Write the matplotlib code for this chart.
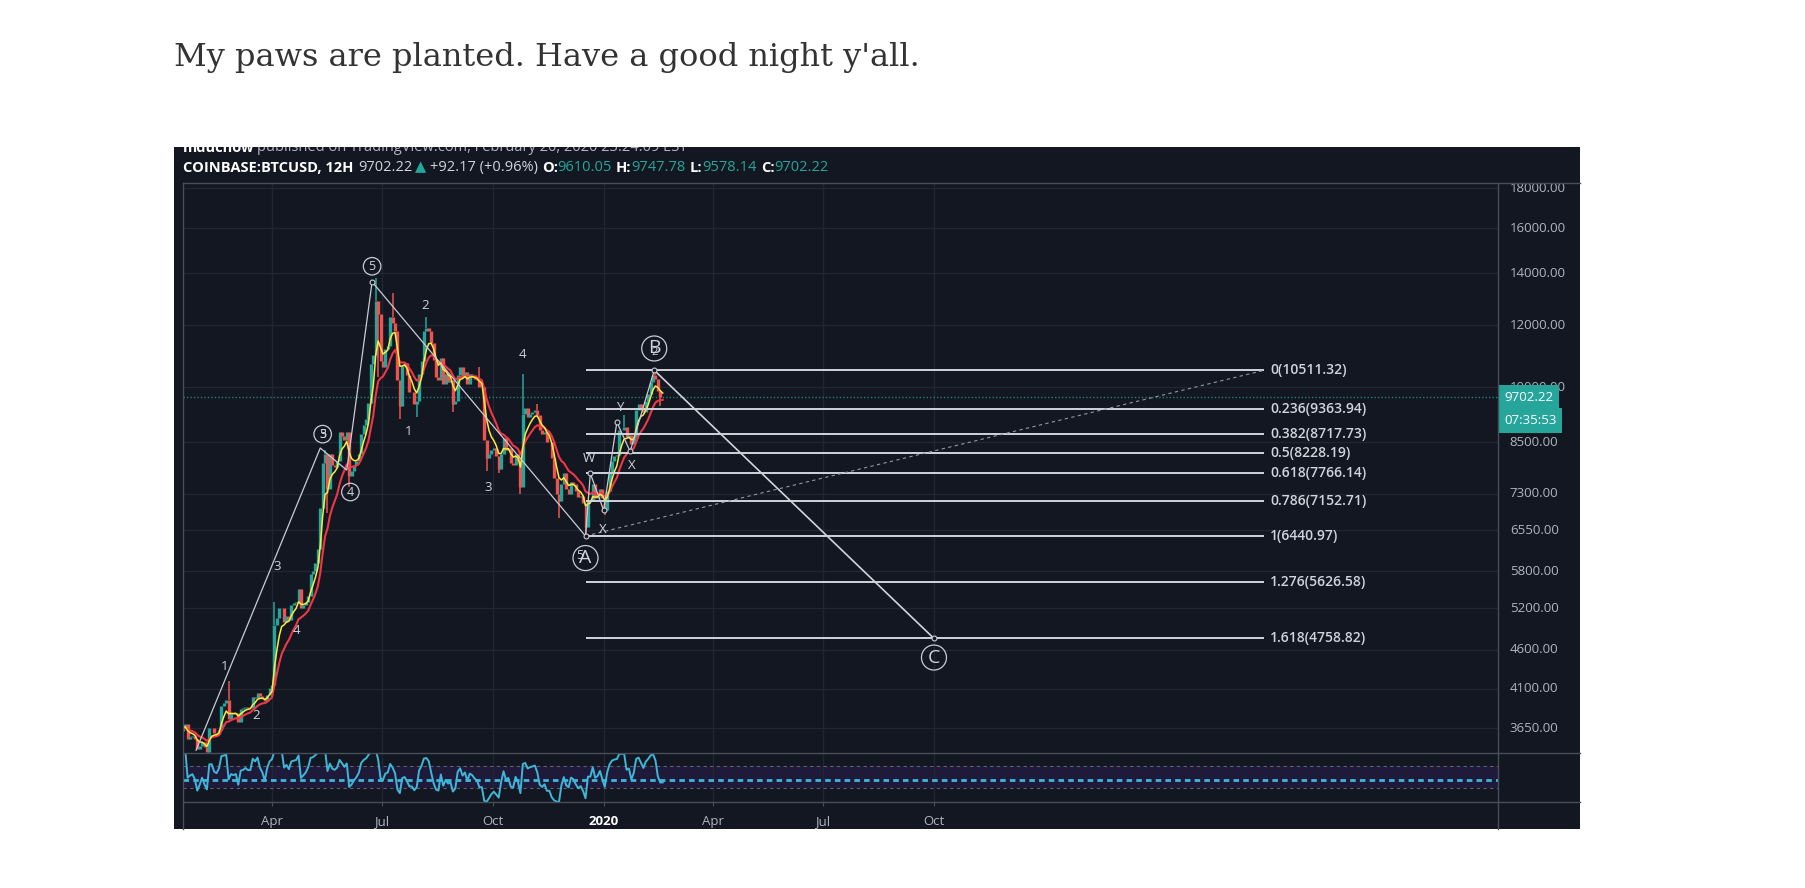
import numpy as np
import pandas as pd
import matplotlib
matplotlib.use("Agg")
import matplotlib.pyplot as plt
import matplotlib.transforms as mtransforms
from matplotlib.lines import Line2D
from matplotlib.ticker import NullLocator

BG = "#131722"
GRID = "#222633"
BORDER = "#4a4e5a"
TEXT = "#b2b5be"
WHITE = "#d1d4dc"
TEAL = "#26a69a"
RED = "#ef5350"

# COINBASE:BTCUSD closes, one every 2 days from 2019-01-17
closes = [
    3650, 3700, 3540, 3560, 3570, 3540, 3430, 3460,
    3500, 3450, 3400, 3650, 3650, 3600, 3590, 3630, 3900, 3930, 3970, 3750, 3820, 3810,
    3820, 3720, 3860, 3870, 3890, 3880, 3880, 4000, 3990, 4050, 4010, 3990, 3950, 4030, 4110,
    4150, 4950, 5050, 5200, 5200, 5000, 5080, 5030, 5250, 5280, 5300, 5500, 5200, 5250, 5300,
    5400, 5750, 5800, 5950, 6200, 7000, 8000, 8200, 7400, 8200, 7950, 7900, 8050, 8750, 8650, 8550,
    8750, 7700, 7800, 7950, 8050, 8200, 8700, 8950, 9100, 9550, 10700, 11000, 12900, 12400, 10800,
    10600, 11200, 11300, 12300, 12100, 11800, 10200, 9450, 10650, 10750, 10350, 9850, 9850, 9500, 9600,
    10400, 10800, 11800, 11900, 11800, 11400, 10850, 10300, 10200, 10900, 10100, 10400, 10150, 10200, 9500, 9600,
    10350, 10600, 10300, 10450, 10100, 10400, 10350, 10250, 10200, 10000, 10000, 8550, 8100, 8200, 8300,
    8350, 8150, 7850, 8200, 8600, 8300, 8350, 8000, 7950, 8200, 8050, 7450, 9250, 9400, 9150,
    9250, 9300, 9350, 9200, 8800, 8700, 8750, 8500, 8500, 8100, 7650, 7300, 7150, 7500, 7750,
    7400, 7300, 7550, 7500, 7350, 7220, 7250, 7100, 6620, 7150, 7150, 7500, 7200, 7250, 7400, 7200,
    6950, 7350, 7770, 8050, 8150, 8180, 8800, 8820, 8900, 8630, 8670, 8450, 8600, 9350, 9500,
    9400, 9300, 9600, 9800, 10150, 10350, 10250, 9900, 9700, 9702.22,
]
first_open = 3620
dates = pd.date_range("2019-01-17", periods=len(closes), freq="2D")

# notable wicks
wick_dates = ["2019-02-24", "2019-05-15", "2019-06-26", "2019-07-10", "2019-08-07",
              "2019-10-26", "2020-02-13", "2019-06-28", "2019-07-16", "2019-09-26",
              "2019-10-24", "2019-12-17", "2020-01-02", "2019-11-25", "2019-04-03",
              "2019-05-17", "2019-06-04", "2019-07-30", "2019-08-29", "2019-10-06",
              "2019-09-20", "2019-11-07", "2020-01-18", "2020-02-17"]
wick_prices = [4200, 8300, 13800, 13200, 12300, 10400, 10511.32, 10300, 9100, 7800,
               7300, 6440.97, 6850, 6800, 5300,
               6900, 7450, 9150, 9300, 7750,
               10600, 9500, 9200, 9450]

price_ticks = [3650, 4100, 4600, 5200, 5800, 6550, 7300, 8500, 10000, 12000, 14000, 16000, 18000]
quarter_dates = pd.to_datetime(["2019-04-01", "2019-07-01", "2019-10-01", "2020-01-01",
                                "2020-04-01", "2020-07-01", "2020-10-01"])
quarter_labels = ["Apr", "Jul", "Oct", "2020", "Apr", "Jul", "Oct"]

fib_ratios = [0, 0.236, 0.382, 0.5, 0.618, 0.786, 1, 1.276, 1.618]
fib_prices = [10511.32, 9363.94, 8717.73, 8228.19, 7766.14, 7152.71, 6440.97, 5626.58, 4758.82]
fib_start, fib_end = pd.Timestamp("2019-12-17"), pd.Timestamp("2021-07-02")

impulse_dates = pd.to_datetime(["2019-01-28", "2019-05-11", "2019-06-02", "2019-06-23", "2019-12-17"])
impulse_prices = [3420, 8353, 7826, 13650, 6440.97]
corr_dates = pd.to_datetime(["2019-12-17", "2019-12-21", "2020-01-01", "2020-01-12", "2020-01-23", "2020-02-12"])
corr_prices = [6440.97, 7750, 6950, 9020, 8270, 10511.32]
target_dates = pd.to_datetime(["2020-02-12", "2020-10-01"])
target_prices = [10511.32, 4758.82]

wave_labels = ["1", "2", "3", "4", "1", "2", "3", "4", "W", "X", "Y", "X"]
wave_label_dates = pd.to_datetime(["2019-02-21", "2019-03-19", "2019-04-05", "2019-04-21", "2019-07-23",
                                   "2019-08-06", "2019-09-27", "2019-10-26", "2019-12-20", "2019-12-31",
                                   "2020-01-14", "2020-01-24"])
wave_label_prices = [4376, 3790, 5891, 4873, 8763, 12723, 7435, 11019, 8099, 6574, 9415, 7935]

circ_labels = ["5", "3", "4", "A", "B", "C"]
circ_dates = pd.to_datetime(["2019-06-23", "2019-05-13", "2019-06-05", "2019-12-17", "2020-02-12", "2020-10-01"])
circ_prices = [14292, 8703, 7335, 6035, 11210, 4498]
circ_sizes = [9, 9, 9, 14, 14, 14]

last_price = 9702.22
countdown = "07:35:53"

# ---- derived series
s = pd.Series(closes, index=dates, dtype=float)
opens = np.array([first_open] + closes[:-1], dtype=float)
cl = s.values
ma_fast = s.ewm(span=5, adjust=False).mean()
ma_slow = s.ewm(span=12, adjust=False).mean()
delta = s.diff()
gain = delta.clip(lower=0).ewm(alpha=1 / 4, adjust=False).mean()
loss = (-delta.clip(upper=0)).ewm(alpha=1 / 4, adjust=False).mean()
rsi_vals = 100 - 100 / (1 + gain / loss)

# ---- layout in reference pixel frame
W, H = 1561.0, 767.0
def fx(x):
    return x / W
def fy(y):
    return 1 - y / H

plt.rcParams["font.family"] = ["Open Sans", "DejaVu Sans"]
fig = plt.figure(figsize=(18.06, 8.88), dpi=100)
fig.patch.set_facecolor("white")

fig.text(fx(150), fy(50), "My paws are planted. Have a good night y'all.",
         family="DejaVu Serif", size=23, color="#333333", va="center", ha="left")

bg = fig.add_axes([fx(150), fy(716), fx(1366) - fx(150), fy(127) - fy(716)])
bg.set_facecolor(BG)
bg.set_xlim(0, 1)
bg.set_ylim(0, 1)
bg.set_xticks([])
bg.set_yticks([])
for sp in bg.spines.values():
    sp.set_visible(False)

ax = fig.add_axes([fx(158), fy(650), fx(1295) - fx(158), fy(158) - fy(650)])
rsi = fig.add_axes([fx(158), fy(693), fx(1295) - fx(158), fy(650) - fy(693)], sharex=ax)
pax = fig.add_axes([fx(1295), fy(650), fx(1366) - fx(1295), fy(158) - fy(650)])
for a in (ax, rsi, pax):
    a.patch.set_alpha(0)
    for sp in a.spines.values():
        sp.set_visible(False)

ax.set_yscale("log")
ax.set_ylim(3397, 18283)
ax.set_xlim(pd.Timestamp("2019-01-17"), pd.Timestamp("2022-01-12"))
ax.set_yticks(price_ticks)
ax.yaxis.set_minor_locator(NullLocator())
ax.tick_params(axis="y", length=0, labelleft=False, labelright=False)
ax.tick_params(axis="x", length=0, labelbottom=False)
ax.set_xticks(quarter_dates)
ax.grid(True, color=GRID, lw=1)

# candles
up = cl >= opens
colors = np.where(up, TEAL, RED)
ax.vlines(dates, np.minimum(opens, cl), np.maximum(opens, cl), colors=colors, lw=2.4, zorder=3)
wd = pd.to_datetime(wick_dates)
idx = [dates.get_indexer([d], method="nearest")[0] for d in wd]
for i, p in zip(idx, wick_prices):
    base = max(opens[i], cl[i]) if p > cl[i] else min(opens[i], cl[i])
    ax.vlines(dates[i], min(base, p), max(base, p), colors=colors[i], lw=1.1, zorder=3)

ax.plot(dates, ma_slow, color="#f23645", lw=1.5, zorder=4)
ax.plot(dates, ma_fast, color="#ffeb3b", lw=1.1, zorder=4)

ax.axhline(last_price, color=TEAL, ls=(0, (1, 1.5)), lw=1, alpha=0.7, zorder=2)

# fib retracement
ax.hlines(fib_prices, fib_start, fib_end, color=WHITE, lw=1.4, zorder=5)
for r, p in zip(fib_ratios, fib_prices):
    ax.annotate(f"{r:g}({p:.2f})", (fib_end, p), xytext=(4, 0), textcoords="offset points",
                va="center", ha="left", color=WHITE, size=10, weight="semibold", zorder=6)
ax.plot([fib_start, fib_end], [fib_prices[6], fib_prices[0]], color="#9598a1",
        ls=(0, (3, 3)), lw=0.8, zorder=5)

# wave lines
ax.plot(impulse_dates, impulse_prices, color="#c9ccd4", lw=0.9, zorder=5)
ax.plot(corr_dates, corr_prices, color="#c9ccd4", lw=0.9, zorder=5)
ax.plot(target_dates, target_prices, color=WHITE, lw=1.2, zorder=5)
ax.plot(list(corr_dates) + [impulse_dates[3], target_dates[1]],
        corr_prices + [impulse_prices[3], target_prices[1]],
        ls="none", marker="o", ms=3.5, mfc=BG, mec="#c9ccd4", mew=0.8, zorder=6)

for t, d, p in zip(wave_labels, wave_label_dates, wave_label_prices):
    ax.text(d, p, t, color=WHITE, size=9.5, ha="center", va="center", zorder=7)
for t, d, p, sz in zip(circ_labels, circ_dates, circ_prices, circ_sizes):
    ax.text(d, p, t, color=WHITE, size=sz, ha="center", va="center", zorder=7,
            bbox=dict(boxstyle="circle,pad=0.18", fc="none", ec="#c9ccd4", lw=0.9))
# overlapping labels from earlier counts
ax.text(circ_dates[1], circ_prices[1], "5", color=WHITE, size=9, ha="center", va="center", zorder=7)
ax.annotate("5", (circ_dates[3], circ_prices[3]), xytext=(-4, 2), textcoords="offset points",
            color=WHITE, size=9, ha="center", va="center", zorder=7)
ax.annotate("2", (circ_dates[4], circ_prices[4]), xytext=(0, -3), textcoords="offset points",
            color=WHITE, size=8, ha="center", va="center", zorder=7)

# price scale
bt = mtransforms.blended_transform_factory(pax.transAxes, pax.transData)
pax.set_yscale("log")
pax.set_ylim(ax.get_ylim())
pax.set_xlim(0, 1)
pax.yaxis.set_major_locator(NullLocator())
pax.yaxis.set_minor_locator(NullLocator())
pax.xaxis.set_major_locator(NullLocator())
for p in price_ticks:
    pax.text(0.14, p, f"{p:.2f}", transform=bt, va="center", ha="left",
             color=TEXT, size=9.5, clip_on=True)
pax.text(0.07, last_price, f"{last_price:.2f}", transform=bt, va="center", ha="left",
         color="white", size=9.5, zorder=5,
         bbox=dict(boxstyle="square,pad=0.45", fc=TEAL, ec="none"))
pax.annotate(countdown, (0.07, last_price), xycoords=bt, xytext=(0, -16.5),
             textcoords="offset points", va="center", ha="left", color="white",
             size=9.5, zorder=5, bbox=dict(boxstyle="square,pad=0.45", fc=TEAL, ec="none"))

# RSI
rsi.set_ylim(4, 94)
rsi.set_yticks([])
rsi.axhspan(30, 70, color="#2a1e4f", alpha=0.55, lw=0)
rsi.axhline(70, color="#5d606b", ls=(0, (3, 3)), lw=0.8)
rsi.axhline(30, color="#5d606b", ls=(0, (3, 3)), lw=0.8)
rsi.axhline(44, color="#3fb7d9", ls=(0, (2, 1.5)), lw=2)
rsi.plot(dates, rsi_vals, color="#3fb7d9", lw=1.4, zorder=4)
rsi.set_xticks(quarter_dates)
rsi.set_xticklabels(quarter_labels)
rsi.xaxis.grid(True, color=GRID, lw=1)
rsi.tick_params(axis="x", length=3, color=BORDER, pad=6, labelsize=9.5, labelcolor=TEXT)
for lbl in rsi.get_xticklabels():
    if lbl.get_text() == "2020":
        lbl.set_fontweight("bold")
        lbl.set_color("white")

# separators
def fline(x0, y0, x1, y1):
    fig.add_artist(Line2D([fx(x0), fx(x1)], [fy(y0), fy(y1)], transform=fig.transFigure,
                          color=BORDER, lw=1))
fline(158, 158, 1366, 158)
fline(158, 650, 1366, 650)
fline(158, 693, 1366, 693)
fline(158, 158, 158, 716)
fline(1295, 158, 1295, 716)

# header lines, chained with measured widths
fig.canvas.draw()
rend = fig.canvas.get_renderer()
inv = bg.transAxes.inverted()

def chain(parts, x0, y):
    x = x0
    for txt, col, wt, gap in parts:
        t = bg.text(x, y, txt, transform=bg.transAxes, color=col, weight=wt,
                    size=10.5, va="center", ha="left", clip_on=True)
        bb = t.get_window_extent(renderer=rend)
        x = inv.transform((bb.x1 + gap, bb.y0))[0]

chain([("mduchow", "white", "bold", 3),
       ("published on TradingView.com, February 20, 2020 23:24:09 EST", TEXT, "normal", 0)],
      8 / 1216, 0.999)
chain([("COINBASE:BTCUSD, 12H", "white", "bold", 5),
       ("9702.22", WHITE, "normal", 3),
       ("\u25b2", TEAL, "normal", 3),
       ("+92.17 (+0.96%)", WHITE, "normal", 4),
       ("O:", "white", "bold", 0), ("9610.05", TEAL, "normal", 4),
       ("H:", "white", "bold", 0), ("9747.78", TEAL, "normal", 4),
       ("L:", "white", "bold", 0), ("9578.14", TEAL, "normal", 4),
       ("C:", "white", "bold", 0), ("9702.22", TEAL, "normal", 0)],
      8 / 1216, (716 - 145) / 589)

fig.savefig("out.png", dpi=100, facecolor="white")
